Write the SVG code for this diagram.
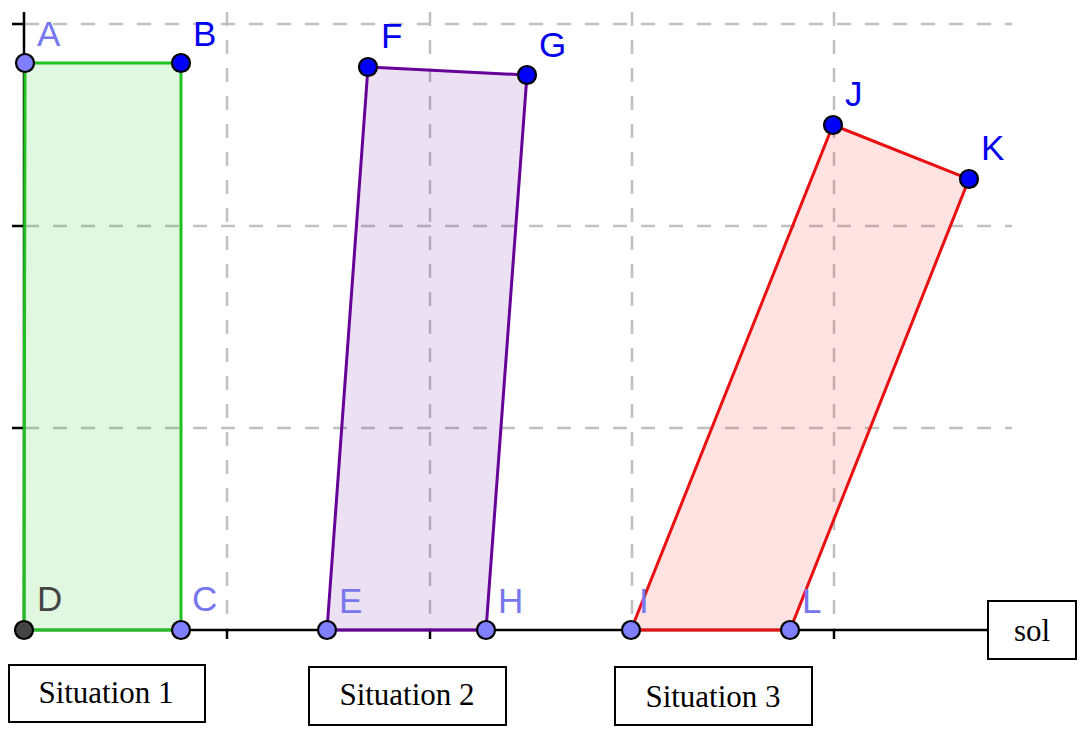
<svg xmlns="http://www.w3.org/2000/svg" width="1081" height="731" viewBox="0 0 1081 731">
<style>
.grid{stroke:#c0c0c0;stroke-width:2.5;stroke-dasharray:14 14;fill:none}
.axis{stroke:#000;stroke-width:2.5;fill:none}
.pt{stroke:#000;stroke-width:2.2}
.lbl{font-family:"Liberation Sans",Arial,sans-serif;font-size:35px}
.light{fill:#7777ee}
.dark{fill:#0000ee}
.box{fill:#fff;stroke:#000;stroke-width:2}
.cap{font-family:"Liberation Serif","Times New Roman",serif;font-size:31px;fill:#000;text-anchor:middle}
</style>
<rect width="1081" height="731" fill="#fff"/>
<g id="grid">
<line class="grid" x1="25" y1="24" x2="1012" y2="24"/>
<line class="grid" x1="25" y1="226" x2="1012" y2="226"/>
<line class="grid" x1="25" y1="428" x2="1012" y2="428"/>
<line class="grid" x1="227" y1="12" x2="227" y2="630"/>
<line class="grid" x1="430" y1="12" x2="430" y2="630"/>
<line class="grid" x1="632" y1="12" x2="632" y2="630"/>
<line class="grid" x1="834" y1="12" x2="834" y2="630"/>
</g>
<g id="axes">
<line class="axis" x1="24" y1="12" x2="24" y2="630"/>
<line class="axis" x1="12" y1="24" x2="24" y2="24"/>
<line class="axis" x1="12" y1="226" x2="24" y2="226"/>
<line class="axis" x1="12" y1="428" x2="24" y2="428"/>
<line class="axis" x1="14" y1="630" x2="989" y2="630"/>
<line class="axis" x1="227" y1="630" x2="227" y2="639"/>
<line class="axis" x1="430" y1="630" x2="430" y2="639"/>
<line class="axis" x1="632" y1="630" x2="632" y2="639"/>
<line class="axis" x1="834" y1="630" x2="834" y2="639"/>
</g>
<g id="situation1-shape">
<polygon points="25,63 181,63 181,630 24,630" fill="#00c000" fill-opacity="0.12" stroke="#1fc01f" stroke-width="3"/>
</g>
<g id="situation2-shape">
<polygon points="368,67 527,75 486,630 327,630" fill="#660099" fill-opacity="0.12" stroke="#660099" stroke-width="3"/>
</g>
<g id="situation3-shape">
<polygon points="833,125 969,179 790,630 631,630" fill="#ff0000" fill-opacity="0.11" stroke="#e81010" stroke-width="3"/>
</g>
<g id="points">
<circle class="pt" cx="25" cy="63" r="9" fill="#7f7fff"/>
<circle class="pt" cx="181" cy="63" r="9" fill="#0000ff"/>
<circle class="pt" cx="181" cy="630" r="9" fill="#7f7fff"/>
<circle class="pt" cx="24" cy="630" r="9" fill="#444"/>
<circle class="pt" cx="327" cy="630" r="9" fill="#7f7fff"/>
<circle class="pt" cx="368" cy="67" r="9" fill="#0000ff"/>
<circle class="pt" cx="527" cy="75" r="9" fill="#0000ff"/>
<circle class="pt" cx="486" cy="630" r="9" fill="#7f7fff"/>
<circle class="pt" cx="631" cy="630" r="9" fill="#7f7fff"/>
<circle class="pt" cx="833" cy="125" r="9" fill="#0000ff"/>
<circle class="pt" cx="969" cy="179" r="9" fill="#0000ff"/>
<circle class="pt" cx="790" cy="630" r="9" fill="#7f7fff"/>
</g>
<g id="labels">
<text class="lbl light" x="37" y="46">A</text>
<text class="lbl dark" x="193" y="46">B</text>
<text class="lbl light" x="192" y="611">C</text>
<text class="lbl" fill="#444" x="37" y="611">D</text>
<text class="lbl light" x="339" y="613">E</text>
<text class="lbl dark" x="381" y="48">F</text>
<text class="lbl dark" x="539" y="57">G</text>
<text class="lbl light" x="498" y="613">H</text>
<text class="lbl light" x="639" y="613">I</text>
<text class="lbl dark" x="845" y="106">J</text>
<text class="lbl dark" x="981" y="160">K</text>
<text class="lbl light" x="802" y="613">L</text>
</g>
<g id="situation1">
<rect class="box" x="9" y="665" width="196" height="57"/>
<text class="cap" x="106" y="703">Situation 1</text>
</g>
<g id="situation2">
<rect class="box" x="309" y="667" width="197" height="58"/>
<text class="cap" x="407" y="705">Situation 2</text>
</g>
<g id="situation3">
<rect class="box" x="615" y="667" width="197" height="58"/>
<text class="cap" x="713" y="707">Situation 3</text>
</g>
<g id="sol">
<rect class="box" x="988" y="601" width="88" height="58"/>
<text class="cap" x="1032" y="641">sol</text>
</g>
</svg>
